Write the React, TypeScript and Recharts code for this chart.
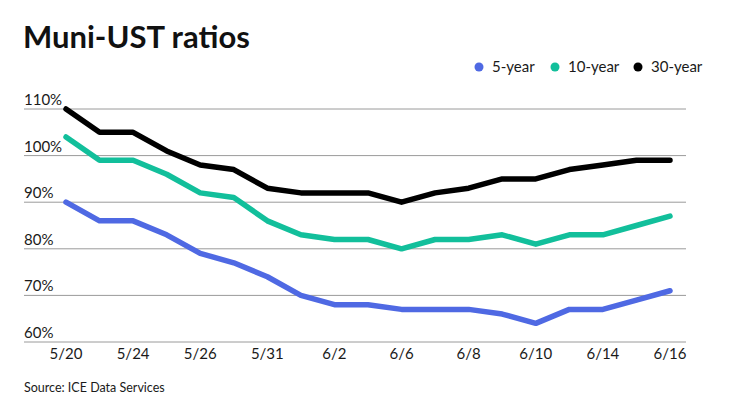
import React from 'react';
import { LineChart, Line, XAxis, YAxis, CartesianGrid } from 'recharts';

const categories = ['5/20','5/21','5/24','5/25','5/26','5/27','5/31','6/1','6/2','6/3','6/6','6/7','6/8','6/9','6/10','6/11','6/14','6/15','6/16'];
const fiveYear = [90,86,86,83,79,77,74,70,68,68,67,67,67,66,64,67,67,69,71];
const tenYear = [104,99,99,96,92,91,86,83,82,82,80,82,82,83,81,83,83,85,87];
const thirtyYear = [110,105,105,101,98,97,93,92,92,92,90,92,93,95,95,97,98,99,99];
const xTickLabels = ['5/20','5/24','5/26','5/31','6/2','6/6','6/8','6/10','6/14','6/16'];
const yTicks = [60,70,80,90,100,110];

const series = [
  { key: 'five', name: '5-year', color: '#4f69e3', values: fiveYear },
  { key: 'ten', name: '10-year', color: '#12bf9b', values: tenYear },
  { key: 'thirty', name: '30-year', color: '#000000', values: thirtyYear },
];

const data = categories.map((c, i) => {
  const row: any = { date: c };
  series.forEach((s) => { row[s.key] = s.values[i]; });
  return row;
});

const FONT = 'Lato, "Noto Sans", sans-serif';

const YTick = (props: any) => {
  const { y, payload } = props;
  return (
    <text x={24} y={y - 4} fontFamily={FONT} fontSize={15} fill="#1a1a1a" textAnchor="start">
      {payload.value}%
    </text>
  );
};

const XTick = (props: any) => {
  const { x, y, payload } = props;
  return (
    <text x={x} y={y + 11} fontFamily={FONT} fontSize={15} fill="#1a1a1a" textAnchor="middle">
      {payload.value}
    </text>
  );
};

const legendX = [479, 555, 638];

export default function App() {
  return (
    <div style={{ position: 'absolute', left: 0, top: 0, width: 740, height: 416, background: '#fff' }}>
      <LineChart
        width={740}
        height={416}
        data={data}
        margin={{ top: 109, right: 54, left: 23, bottom: 44 }}
      >
        <CartesianGrid vertical={false} stroke="#9a9a9a" strokeWidth={1} />
        <XAxis
          dataKey="date"
          ticks={xTickLabels}
          interval={0}
          axisLine={false}
          tickLine={false}
          tickMargin={0}
          height={30}
          padding={{ left: 42, right: 16 }}
          tick={<XTick />}
        />
        <YAxis
          domain={[60, 110]}
          ticks={yTicks}
          width={1}
          axisLine={false}
          tickLine={false}
          tick={<YTick />}
          interval={0}
        />
        {series.map((s) => (
          <Line
            key={s.key}
            dataKey={s.key}
            name={s.name}
            stroke={s.color}
            strokeWidth={5.5}
            dot={false}
            activeDot={false}
            strokeLinecap="round"
            strokeLinejoin="round"
            type="linear"
            isAnimationActive={false}
          />
        ))}
      </LineChart>
      <svg width={740} height={416} style={{ position: 'absolute', left: 0, top: 0, pointerEvents: 'none' }}>
        <text x={23} y={48} fontFamily={FONT} fontWeight={700} fontSize={31} fill="#111">Muni-UST ratios</text>
        {series.map((s, i) => (
          <g key={s.key}>
            <circle cx={legendX[i]} cy={67} r={4.5} fill={s.color} />
            <text x={legendX[i] + 13} y={72} fontFamily={FONT} fontSize={15} fill="#1a1a1a">{s.name}</text>
          </g>
        ))}
        <text x={24} y={392} fontFamily={FONT} fontSize={12.5} fill="#1a1a1a">Source: ICE Data Services</text>
      </svg>
    </div>
  );
}
